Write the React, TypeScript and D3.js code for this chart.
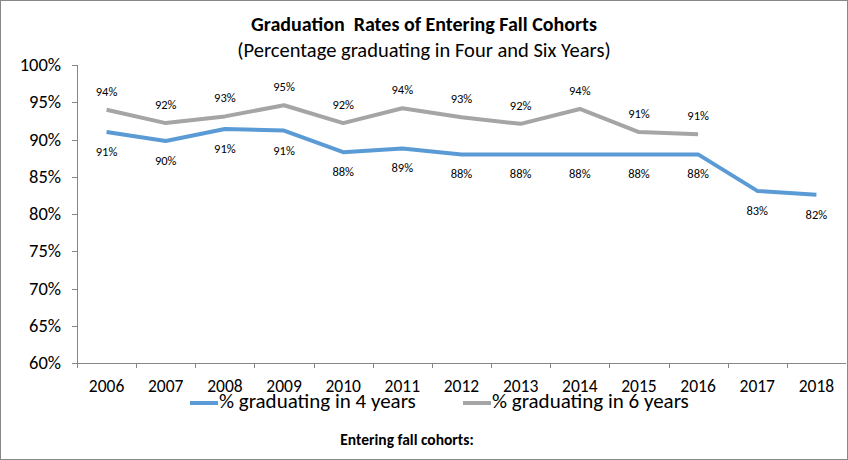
import * as d3 from "d3";

const years = ["2006", "2007", "2008", "2009", "2010", "2011", "2012", "2013", "2014", "2015", "2016", "2017", "2018"];
const fourYear = [91.0, 89.8, 91.4, 91.2, 88.3, 88.8, 88.0, 88.0, 88.0, 88.0, 88.0, 83.1, 82.6];
const sixYear = [94.0, 92.2, 93.1, 94.6, 92.2, 94.2, 93.0, 92.1, 94.1, 91.0, 90.7];
const fourLabels = ["91%", "90%", "91%", "91%", "88%", "89%", "88%", "88%", "88%", "88%", "88%", "83%", "82%"];
const sixLabels = ["94%", "92%", "93%", "95%", "92%", "94%", "93%", "92%", "94%", "91%", "91%"];
const yTicks = [60, 65, 70, 75, 80, 85, 90, 95, 100];

const W = 848;
const H = 460;
const font = "Carlito, 'Liberation Sans', Arial, sans-serif";
const blue = "#5b9bd5";
const gray = "#a5a5a5";
const axisColor = "#868686";

export default function App() {
  const x = d3.scaleBand<string>().domain(years).range([77, 846]).padding(0);
  const y = d3.scaleLinear().domain([60, 100]).range([363, 65]);
  const cx = (yr: string) => (x(yr) as number) + x.bandwidth() / 2;

  const line = d3
    .line<number>()
    .x((_, i) => cx(years[i]))
    .y((d) => y(d));

  return (
    <svg
      width={W}
      height={H}
      style={{ position: "absolute", left: 0, top: 0, fontFamily: font }}
    >
      <rect x={0.5} y={0.5} width={W - 1} height={H - 1} fill="#fff" stroke="#888" />

      <text x={424} y={31} textAnchor="middle" fontSize={20} fontWeight="bold" style={{ whiteSpace: "pre" }}>
        {"Graduation  Rates of Entering Fall Cohorts"}
      </text>
      <text x={424} y={57} textAnchor="middle" fontSize={20.5}>
        (Percentage graduating in Four and Six Years)
      </text>

      {/* y axis */}
      <line x1={77.5} x2={77.5} y1={y(100)} y2={y(60)} stroke={axisColor} />
      {yTicks.map((t) => (
        <g key={t}>
          <line x1={72} x2={77.5} y1={Math.round(y(t)) + 0.5} y2={Math.round(y(t)) + 0.5} stroke={axisColor} />
          <text x={61} y={y(t) + 6} textAnchor="end" fontSize={18.5}>
            {t}%
          </text>
        </g>
      ))}

      {/* x axis */}
      <line x1={77} x2={846} y1={Math.round(y(60)) + 0.5} y2={Math.round(y(60)) + 0.5} stroke={axisColor} />
      {years.map((yr) => (
        <g key={yr}>
          <line
            x1={Math.round(x(yr) as number) + 0.5}
            x2={Math.round(x(yr) as number) + 0.5}
            y1={y(60)}
            y2={y(60) + 5}
            stroke={axisColor}
          />
          <text x={cx(yr)} y={392} textAnchor="middle" fontSize={17.5}>
            {yr}
          </text>
        </g>
      ))}

      <path d={line(sixYear) ?? ""} fill="none" stroke={gray} strokeWidth={4} strokeLinejoin="round" />
      <path d={line(fourYear) ?? ""} fill="none" stroke={blue} strokeWidth={4} strokeLinejoin="round" />

      {sixYear.map((v, i) => (
        <text key={"s" + i} x={cx(years[i])} y={y(v) - 14} textAnchor="middle" fontSize={12.5}>
          {sixLabels[i]}
        </text>
      ))}
      {fourYear.map((v, i) => (
        <text key={"f" + i} x={cx(years[i])} y={y(v) + 24} textAnchor="middle" fontSize={12.5}>
          {fourLabels[i]}
        </text>
      ))}

      {/* legend */}
      <line x1={190} x2={218} y1={403} y2={403} stroke={blue} strokeWidth={4} />
      <text x={219} y={408} fontSize={21}>
        % graduating in 4 years
      </text>
      <line x1={463} x2={491} y1={403} y2={403} stroke={gray} strokeWidth={4} />
      <text x={492} y={408} fontSize={21}>
        % graduating in 6 years
      </text>

      <text x={407} y={445} textAnchor="middle" fontSize={15.5} fontWeight="bold">
        Entering fall cohorts:
      </text>
    </svg>
  );
}
